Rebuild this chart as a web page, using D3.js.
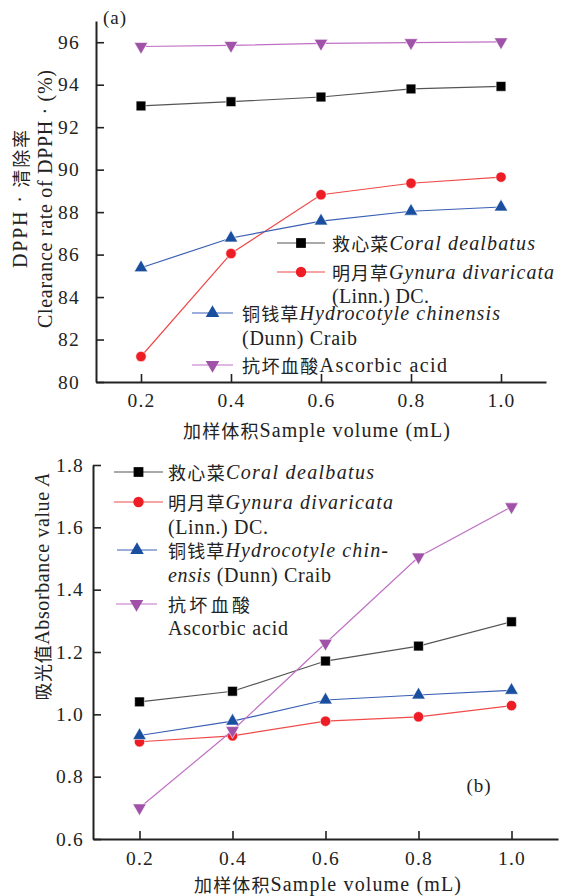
<!DOCTYPE html>
<html>
<head>
<meta charset="utf-8">
<script src="https://cdn.jsdelivr.net/npm/d3@7"></script>
<style>
  html, body { margin: 0; padding: 0; background: #fff; }
  svg text { font-family: "Liberation Serif", "Times New Roman", "Noto Sans CJK SC", serif; fill: #222; }
</style>
</head>
<body>
<svg id="chart" width="562" height="896"></svg>
<script>
// Sample volumes (mL)
const volumes = [0.2, 0.4, 0.6, 0.8, 1.0];
const xTicks = [0.2, 0.4, 0.6, 0.8, 1.0];

// Panel (a): DPPH clearance rate (%)
const dpphCoral    = [93.0, 93.2, 93.42, 93.8, 93.92];
const dpphGynura   = [81.2, 86.05, 88.82, 89.36, 89.65];
const dpphHydro    = [85.38, 86.78, 87.58, 88.04, 88.24];
const dpphAscorbic = [95.8, 95.85, 95.95, 95.98, 96.02];
const dpphTicks = [80, 82, 84, 86, 88, 90, 92, 94, 96];

// Panel (b): absorbance value A
const absCoral    = [1.04, 1.074, 1.171, 1.219, 1.297];
const absGynura   = [0.912, 0.931, 0.978, 0.992, 1.028];
const absHydro    = [0.932, 0.978, 1.046, 1.062, 1.077];
const absAscorbic = [0.70, 0.948, 1.228, 1.505, 1.666];
const absTicks = [0.6, 0.8, 1.0, 1.2, 1.4, 1.6, 1.8];

const seriesStyle = [
  { key: "coral",    line: "#555555", fill: "#000000", symbol: d3.symbolSquare,   size: 95,  rot: 0 },
  { key: "gynura",   line: "#f04a4a", fill: "#ee1c25", symbol: d3.symbolCircle,   size: 85,  rot: 0 },
  { key: "hydro",    line: "#3a5fb5", fill: "#1a4fa0", symbol: d3.symbolTriangle, size: 80,  rot: 0 },
  { key: "ascorbic", line: "#c070c4", fill: "#a052a8", symbol: d3.symbolTriangle, size: 80,  rot: 180 }
];

const svg = d3.select("#chart");
const axisColor = "#222";
const CJK = "'Noto Sans CJK SC'";

// text built from parts: {t, cjk, it}; optionally stretched to a given width
function richText(parent, x, y, parts, opts) {
  const t = parent.append("text")
    .attr("x", x).attr("y", y)
    .attr("dominant-baseline", "central")
    .attr("text-anchor", opts.anchor || "start")
    .style("font-size", "20px");
  parts.forEach(p => {
    const sp = t.append("tspan").text(p.t);
    if (p.cjk) sp.style("font-family", CJK).style("font-size", "18px");
    if (p.it) sp.style("font-style", "italic");
  });
  if (opts.width) t.attr("textLength", opts.width).attr("lengthAdjust", "spacing");
  return t;
}

function drawPanel(cfg) {
  const x = d3.scaleLinear().domain([0.1, 1.1]).range([cfg.left, cfg.right]);
  const y = d3.scaleLinear().domain(cfg.yDomain).range([cfg.bottom, cfg.top]);
  const g = svg.append("g");

  // lines and markers
  cfg.series.forEach((vals, i) => {
    const st = seriesStyle[i];
    const pts = volumes.map((v, j) => [v, vals[j]]);
    g.append("path")
      .datum(pts)
      .attr("fill", "none")
      .attr("stroke", st.line)
      .attr("stroke-width", 1.2)
      .attr("d", d3.line().x(d => x(d[0])).y(d => y(d[1])));
    g.selectAll(null).data(pts).enter().append("path")
      .attr("d", d3.symbol().type(st.symbol).size(st.size))
      .attr("fill", st.fill)
      .attr("stroke", "#fff")
      .attr("stroke-width", 0.6)
      .attr("transform", d => `translate(${x(d[0])},${y(d[1])}) rotate(${st.rot})`);
  });

  // axes
  const ax = g.append("g")
    .attr("transform", `translate(0,${cfg.bottom})`)
    .call(d3.axisBottom(x).tickValues(xTicks).tickFormat(d3.format(".1f"))
      .tickSize(-8).tickSizeOuter(0).tickPadding(cfg.xPad));
  const ay = g.append("g")
    .attr("transform", `translate(${cfg.left},0)`)
    .call(d3.axisLeft(y).tickValues(cfg.yTicks).tickFormat(cfg.yFormat)
      .tickSize(-8).tickSizeOuter(0).tickPadding(cfg.yPad));
  [ax, ay].forEach(a => {
    a.select(".domain").attr("stroke", axisColor).attr("stroke-width", 2);
    a.selectAll(".tick line").attr("stroke", axisColor).attr("stroke-width", 1.6);
    a.selectAll(".tick text")
      .style("font-family", "'Liberation Serif', 'Times New Roman', serif")
      .style("font-size", "19.5px")
      .style("letter-spacing", "1.2px")
      .attr("fill", "#222");
  });

  // x-axis title
  richText(g, cfg.xTitle.x, cfg.xTitle.y,
    [{ t: "加样体积", cjk: true }, { t: "Sample volume (mL)" }],
    { anchor: "start", width: cfg.xTitle.w });

  // legend
  cfg.legend.forEach((item, i) => {
    const st = seriesStyle[i];
    g.append("line")
      .attr("x1", item.x1).attr("x2", item.x2)
      .attr("y1", item.y).attr("y2", item.y)
      .attr("stroke", st.line).attr("stroke-width", 1.2);
    g.append("path")
      .attr("d", d3.symbol().type(st.symbol).size(st.size))
      .attr("fill", st.fill)
      .attr("transform", `translate(${(item.x1 + item.x2) / 2},${item.y}) rotate(${st.rot})`);
    item.lines.forEach((ln, k) => {
      richText(g, item.tx, item.y + item.gaps[k], ln.parts, { width: ln.w });
    });
  });

  // panel tag
  g.append("text")
    .attr("x", cfg.tag.x).attr("y", cfg.tag.y)
    .attr("text-anchor", "middle")
    .attr("dominant-baseline", "central")
    .style("font-size", "19px")
    .style("letter-spacing", "1px")
    .text(cfg.tag.t);

  return { g, x, y };
}

// ---- Panel (a) ----
drawPanel({
  left: 96, right: 546, top: 21, bottom: 382,
  yDomain: [80, 97], yTicks: dpphTicks, yFormat: d3.format("d"),
  xPad: 11, yPad: 16,
  xTitle: { x: 183, y: 430, w: 267 },
  series: [dpphCoral, dpphGynura, dpphHydro, dpphAscorbic],
  legend: [
    { x1: 277, x2: 325, y: 243, tx: 332, gaps: [0],
      lines: [{ w: 203, parts: [{ t: "救心菜", cjk: true }, { t: "Coral dealbatus", it: true }] }] },
    { x1: 277, x2: 325, y: 272, tx: 332, gaps: [0, 24],
      lines: [{ w: 222, parts: [{ t: "明月草", cjk: true }, { t: "Gynura divaricata", it: true }] },
              { w: 97, parts: [{ t: "(Linn.) DC." }] }] },
    { x1: 192, x2: 233, y: 313, tx: 242, gaps: [0, 25],
      lines: [{ w: 258, parts: [{ t: "铜钱草", cjk: true }, { t: "Hydrocotyle chinensis", it: true }] },
              { w: 115, parts: [{ t: "(Dunn) Craib" }] }] },
    { x1: 192, x2: 233, y: 365, tx: 242, gaps: [0],
      lines: [{ w: 205, parts: [{ t: "抗坏血酸", cjk: true }, { t: "Ascorbic acid" }] }] }
  ],
  tag: { x: 115, y: 17, t: "(a)" }
});

// y-axis title of (a), two rotated lines
const yta = svg.append("g").attr("transform", "translate(20,199) rotate(-90)");
richText(yta, 0, 0, [{ t: "DPPH · " }, { t: "清除率", cjk: true }], { anchor: "middle", width: 138 });
const yta2 = svg.append("g").attr("transform", "translate(45,199) rotate(-90)");
richText(yta2, 0, 0, [{ t: "Clearance rate of DPPH · (%)" }], { anchor: "middle", width: 258 });

// ---- Panel (b) ----
drawPanel({
  left: 93, right: 558, top: 465, bottom: 839,
  yDomain: [0.6, 1.8], yTicks: absTicks, yFormat: d3.format(".1f"),
  xPad: 12, yPad: 9,
  xTitle: { x: 194, y: 884, w: 267 },
  series: [absCoral, absGynura, absHydro, absAscorbic],
  legend: [
    { x1: 114, x2: 163, y: 472, tx: 168, gaps: [0],
      lines: [{ w: 206, parts: [{ t: "救心菜", cjk: true }, { t: "Coral dealbatus", it: true }] }] },
    { x1: 114, x2: 163, y: 502, tx: 168, gaps: [0, 25],
      lines: [{ w: 225, parts: [{ t: "明月草", cjk: true }, { t: "Gynura divaricata", it: true }] },
              { w: 100, parts: [{ t: "(Linn.) DC." }] }] },
    { x1: 117, x2: 157, y: 550, tx: 168, gaps: [0, 25],
      lines: [{ w: 220, parts: [{ t: "铜钱草", cjk: true }, { t: "Hydrocotyle chin-", it: true }] },
              { w: 163, parts: [{ t: "ensis", it: true }, { t: " (Dunn) Craib" }] }] },
    { x1: 116, x2: 157, y: 604, tx: 168, gaps: [0, 24],
      lines: [{ w: 82, parts: [{ t: "抗坏血酸", cjk: true }] },
              { w: 120, parts: [{ t: "Ascorbic acid" }] }] }
  ],
  tag: { x: 479, y: 785, t: "(b)" }
});

const ytb = svg.append("g").attr("transform", "translate(42,587) rotate(-90)");
richText(ytb, 0, 0, [{ t: "吸光值", cjk: true }, { t: "Absorbance value " }, { t: "A", it: true }],
  { anchor: "middle", width: 227 });
</script>
</body>
</html>
